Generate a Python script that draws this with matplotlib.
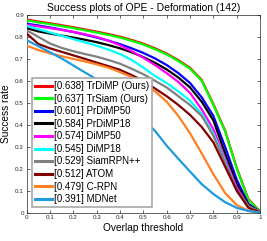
import matplotlib
matplotlib.use("Agg")
import matplotlib.pyplot as plt
import numpy as np

plt.rcParams['font.family'] = ['Liberation Sans', 'DejaVu Sans']

thresholds = np.linspace(0, 1, 21)

trackers = ['TrDiMP (Ours)', 'TrSiam (Ours)', 'PrDiMP50', 'PrDiMP18', 'DiMP50',
            'DiMP18', 'SiamRPN++', 'ATOM', 'C-RPN', 'MDNet']
scores = [0.638, 0.637, 0.601, 0.584, 0.574, 0.545, 0.529, 0.512, 0.479, 0.391]

trsiam = [.875, .866, .858, .849, .840, .830, .820, .809, .797, .782, .765,
          .744, .720, .690, .655, .600, .490, .370, .200, .058, .005]
trdimp = [.879, .870, .862, .853, .844, .834, .824, .813, .801, .786, .769,
          .748, .724, .694, .659, .604, .494, .374, .204, .062, .006]
prdimp50 = [.860, .852, .843, .833, .822, .810, .797, .783, .767, .748, .727,
            .702, .672, .635, .590, .525, .440, .300, .150, .040, .003]
prdimp18 = [.840, .825, .815, .806, .797, .787, .776, .763, .748, .730, .708,
            .682, .652, .615, .570, .505, .420, .270, .130, .035, .002]
dimp50 = [.855, .848, .840, .832, .823, .812, .800, .783, .762, .735, .705,
          .672, .635, .595, .545, .470, .380, .245, .115, .030, .002]
dimp18 = [.850, .835, .820, .805, .790, .775, .760, .742, .722, .695, .660,
          .622, .590, .552, .510, .450, .360, .235, .100, .025, .002]
siamrpn = [.830, .800, .770, .750, .735, .722, .710, .695, .678, .655, .630,
           .600, .570, .530, .490, .440, .350, .230, .105, .030, .002]
atom = [.815, .768, .748, .732, .716, .700, .683, .667, .650, .626, .600,
        .565, .530, .490, .445, .390, .320, .210, .100, .022, .001]
crpn = [.760, .740, .725, .712, .700, .688, .675, .660, .640, .617, .588,
        .552, .505, .440, .361, .270, .175, .090, .035, .008, .000]
mdnet = [.785, .758, .730, .702, .670, .638, .607, .570, .525, .475, .425,
         .372, .305, .245, .187, .130, .085, .048, .022, .008, .000]

curves = [trdimp, trsiam, prdimp50, prdimp18, dimp50, dimp18, siamrpn, atom, crpn, mdnet]
colors = ['#ff0000', '#00ff00', '#0000ff', '#000000', '#ff00ff', '#00ffff',
          '#808080', '#800000', '#ff8020', '#1e9be0']

fig = plt.figure(figsize=(2.67, 2.41), dpi=100)
ax = fig.add_axes([0.1, 0.1175, 0.874, 0.8205])

for i, (name, sc, vals, c) in enumerate(zip(trackers, scores, curves, colors)):
    ax.plot(thresholds, vals, color=c, lw=1.6, zorder=2 + i,
            label='[%.3f] %s' % (sc, name))

ax.set_xlim(0, 1)
ax.set_ylim(0, 0.9)
ax.set_xticks(np.arange(0, 1.01, 0.1))
ax.set_xticklabels(['0', '0.1', '0.2', '0.3', '0.4', '0.5', '0.6', '0.7', '0.8', '0.9', '1'])
ax.set_yticks(np.arange(0, 0.91, 0.1))
ax.set_yticklabels(['0', '0.1', '0.2', '0.3', '0.4', '0.5', '0.6', '0.7', '0.8', '0.9'])
ax.tick_params(direction='in', length=2.5, width=0.5, labelsize=4.5, pad=2,
               top=True, right=True, colors='#262626')
for s in ax.spines.values():
    s.set_linewidth(0.5)
    s.set_color('#262626')

ax.set_title('Success plots of OPE - Deformation (142)', fontsize=7.5, pad=2.5)
ax.set_xlabel('Overlap threshold', fontsize=7.3, labelpad=2)
ax.set_ylabel('Success rate', fontsize=7.3, labelpad=3)

leg = ax.legend(loc='lower left', bbox_to_anchor=(0.023, 0.029), borderaxespad=0,
                fontsize=7, handlelength=1.8, handletextpad=0.15,
                labelspacing=0.26, borderpad=0.3, fancybox=False, framealpha=1)
leg.get_frame().set_edgecolor('#a8a8a8')
leg.get_frame().set_linewidth(1.2)
leg.set_zorder(20)
for h in leg.get_lines():
    h.set_linewidth(2.2)

fig.savefig('out.png', dpi=100)
